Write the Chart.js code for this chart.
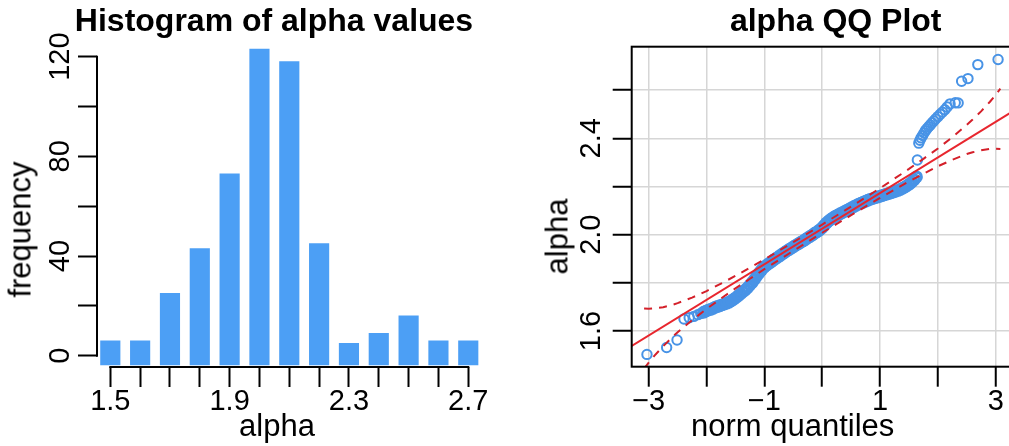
<!DOCTYPE html>
<html>
<head>
<meta charset="utf-8">
<title>alpha histogram and QQ plot</title>
<script src="https://cdn.jsdelivr.net/npm/chart.js@4.4.1/dist/chart.umd.min.js"></script>
<style>
  html, body { margin: 0; padding: 0; background: #fff; overflow: hidden; width: 1009px; height: 446px; }
  canvas { position: absolute; top: 0; }
  #hist { left: 0; }
  #qq { left: 500px; }
  .lab {
    position: absolute; width: 200px; height: 31px; text-align: center;
    font: 31px/31px 'Liberation Sans', Arial, sans-serif; color: #000; white-space: nowrap;
  }
  .ylab { transform: rotate(-90deg); }
</style>
</head>
<body>
<canvas id="hist" width="548" height="446"></canvas>
<canvas id="qq" width="634" height="446"></canvas>
<div class="lab" style="left:177px; top:410px">alpha</div>
<div class="lab" style="left:691px; top:410px">norm quantiles</div>
<div class="lab ylab" style="left:-80px; top:214px">frequency</div>
<div class="lab ylab" style="left:457px; top:221px">alpha</div>
<script>
// histogram data
const histBins = [1.5, 1.6, 1.7, 1.8, 1.9, 2.0, 2.1, 2.2, 2.3, 2.4, 2.5, 2.6, 2.7];
const histCounts = [6, 6, 25, 43, 73, 123, 118, 45, 5, 9, 16, 6, 6];
const histXLabels = [1.5, 1.9, 2.3, 2.7];
const histYTicks = [0, 20, 40, 60, 80, 100, 120];
const histYLabels = [0, 40, 80, 120];

// qq plot data (theoretical quantile, sample alpha)
const qqZ = [
  -3.03, -2.69, -2.51, -2.39, -2.30, -2.22, -2.15, -2.10,
  -2.05, -2.01, -1.97, -1.93, -1.89, -1.85, -1.81, -1.77, -1.73, -1.69,
  -1.65, -1.61, -1.57, -1.53, -1.49, -1.45, -1.41, -1.37, -1.33, -1.29,
  -1.25, -1.21, -1.17, -1.13, -1.09, -1.05, -1.01, -0.97, -0.93, -0.89,
  -0.85, -0.81, -0.77, -0.73, -0.69, -0.65, -0.61, -0.57, -0.53, -0.49,
  -0.45, -0.41, -0.37, -0.33, -0.29, -0.25, -0.21, -0.17, -0.13, -0.09,
  -0.05, -0.01, 0.03, 0.07, 0.11, 0.15, 0.19, 0.23, 0.27, 0.31,
  0.35, 0.39, 0.43, 0.47, 0.51, 0.55, 0.59, 0.63, 0.67, 0.71,
  0.75, 0.79, 0.83, 0.87, 0.91, 0.95, 0.99, 1.03, 1.07, 1.11,
  1.15, 1.19, 1.23, 1.27, 1.31, 1.35, 1.39, 1.43, 1.47, 1.51,
  1.55, 1.59, 1.63,
  1.645, 1.67, 1.69, 1.71, 1.735, 1.76, 1.785, 1.81, 1.84, 1.87,
  1.90, 1.93, 1.96, 2.00, 2.04, 2.08, 2.12, 2.16, 2.21, 2.30,
  2.35, 2.41, 2.52, 2.69, 3.04
];
const qqAlpha = [
  1.503, 1.532, 1.563, 1.650, 1.655, 1.661, 1.668, 1.673,
  1.678, 1.683, 1.687, 1.690, 1.694, 1.699, 1.702, 1.705, 1.709, 1.712,
  1.716, 1.720, 1.726, 1.732, 1.739, 1.747, 1.755, 1.763, 1.771, 1.780,
  1.791, 1.802, 1.815, 1.829, 1.841, 1.853, 1.864, 1.872, 1.879, 1.886,
  1.893, 1.900, 1.906, 1.913, 1.920, 1.926, 1.933, 1.939, 1.945, 1.951,
  1.957, 1.963, 1.969, 1.974, 1.980, 1.987, 1.993, 1.999, 2.006, 2.012,
  2.019, 2.027, 2.037, 2.048, 2.057, 2.064, 2.071, 2.077, 2.082, 2.087,
  2.092, 2.097, 2.102, 2.107, 2.112, 2.117, 2.122, 2.127, 2.131, 2.135,
  2.139, 2.143, 2.147, 2.150, 2.153, 2.156, 2.159, 2.162, 2.165, 2.168,
  2.171, 2.174, 2.177, 2.180, 2.184, 2.188, 2.193, 2.198, 2.204, 2.211,
  2.219, 2.228, 2.240,
  2.310, 2.380, 2.392, 2.402, 2.412, 2.422, 2.432, 2.440, 2.448, 2.456,
  2.465, 2.472, 2.480, 2.490, 2.500, 2.509, 2.519, 2.530, 2.543, 2.548,
  2.547, 2.637, 2.648, 2.706, 2.727
];
const qqLineZ = [-3.3, 3.3];
const qqLineAlpha = [1.537, 2.513];
const envZ = [-3.08, -3.0, -2.9, -2.75, -2.6, -2.5, -2.25, -2.0, -1.75, -1.5, -1.25, -1.0, -0.5, 0,
  0.5, 1.0, 1.25, 1.5, 1.75, 2.0, 2.25, 2.5, 2.6, 2.75, 2.9, 3.0, 3.08];
const envUpper = [1.694, 1.693, 1.694, 1.699, 1.708, 1.716, 1.739, 1.766, 1.797, 1.829, 1.863, 1.897, 1.969, 2.042,
  2.117, 2.193, 2.233, 2.273, 2.315, 2.358, 2.405, 2.456, 2.478, 2.513, 2.552, 2.581, 2.606];
const envLower = [1.444, 1.469, 1.498, 1.537, 1.573, 1.595, 1.645, 1.692, 1.735, 1.777, 1.817, 1.857, 1.933, 2.008,
  2.081, 2.153, 2.187, 2.221, 2.253, 2.284, 2.311, 2.335, 2.342, 2.351, 2.356, 2.357, 2.356];
const qqXTicks = [-3, -2, -1, 0, 1, 2, 3];
const qqXLabels = [-3, -1, 1, 3];
const qqYTicks = [1.6, 1.8, 2.0, 2.2, 2.4, 2.6];
const qqYLabels = [1.6, 2.0, 2.4];

const BAR_BLUE = '#4c9ff5';
const PT_BLUE = '#4893e6';
const RED = '#e8262e';
const DASH_RED = '#d4202a';
const GRID = '#d6d6d6';

Chart.defaults.font.family = "'Liberation Sans', Arial, sans-serif";
Chart.defaults.color = '#000';

const zip = (xs, ys) => xs.map((x, i) => ({ x: x, y: ys[i] }));
const minus = v => (v < 0 ? '\u2212' + Math.abs(v) : String(v));

// axis lines that only span the first to last tick, like R's axis()
const histAxes = {
  id: 'histAxes',
  afterDraw(chart) {
    const { ctx, chartArea, scales: { x, y } } = chart;
    ctx.save();
    ctx.strokeStyle = '#000';
    ctx.lineWidth = 2;
    ctx.beginPath();
    ctx.moveTo(chartArea.left, y.getPixelForValue(histYTicks[0]) + 1);
    ctx.lineTo(chartArea.left, y.getPixelForValue(histYTicks[histYTicks.length - 1]) - 1);
    ctx.moveTo(x.getPixelForValue(histBins[0]) - 1, chartArea.bottom);
    ctx.lineTo(x.getPixelForValue(histBins[histBins.length - 1]) + 1, chartArea.bottom);
    ctx.stroke();
    ctx.restore();
  }
};

const plotBox = {
  id: 'plotBox',
  afterDraw(chart) {
    const { ctx, chartArea: a } = chart;
    ctx.save();
    ctx.strokeStyle = '#000';
    ctx.lineWidth = 2;
    ctx.strokeRect(a.left, a.top, a.right - a.left, a.bottom - a.top);
    ctx.restore();
  }
};

const titleFont = { size: 32, weight: 'bold' };

new Chart(document.getElementById('hist'), {
  type: 'bar',
  data: {
    datasets: [{
      data: zip(histBins, histCounts),
      backgroundColor: BAR_BLUE,
      borderWidth: 0,
      barThickness: 19.5,
      base: -3.7
    }]
  },
  options: {
    responsive: false,
    devicePixelRatio: 1,
    animation: false,
    layout: { padding: 0 },
    plugins: {
      legend: { display: false },
      tooltip: { enabled: false },
      title: {
        display: true,
        text: 'Histogram of alpha values',
        color: '#000',
        font: titleFont,
        padding: { top: 3.4, bottom: 4.9 }
      }
    },
    scales: {
      x: {
        type: 'linear',
        offset: false,
        min: 1.4554,
        max: 2.9673,
        afterBuildTicks: s => { s.ticks = histBins.map(v => ({ value: v })); },
        afterFit: s => { s.height = 79; },
        border: { display: false },
        grid: { offset: false, drawOnChartArea: false, tickLength: 20, tickWidth: 2, tickColor: '#000' },
        ticks: {
          autoSkip: false, maxRotation: 0, padding: -2.4, color: '#000', font: { size: 29 },
          callback: v => (histXLabels.includes(v) ? v.toFixed(1) : '')
        }
      },
      y: {
        min: -4.535,
        max: 124.0,
        afterBuildTicks: s => { s.ticks = histYTicks.map(v => ({ value: v })); },
        afterFit: s => { s.width = 97; },
        border: { display: false },
        grid: { drawOnChartArea: false, tickLength: 19, tickWidth: 2, tickColor: '#000' },
        ticks: {
          autoSkip: false, minRotation: 90, maxRotation: 90, crossAlign: 'center', padding: -7,
          color: '#000', font: { size: 29 },
          callback: v => (histYLabels.includes(v) ? String(v) : '')
        }
      }
    }
  },
  plugins: [histAxes]
});

new Chart(document.getElementById('qq'), {
  type: 'scatter',
  data: {
    datasets: [
      {
        data: zip(qqLineZ, qqLineAlpha),
        showLine: true, borderColor: RED, borderWidth: 2, pointRadius: 0
      },
      {
        data: zip(envZ, envUpper),
        showLine: true, borderColor: DASH_RED, borderWidth: 2, borderDash: [8, 7], pointRadius: 0
      },
      {
        data: zip(envZ, envLower),
        showLine: true, borderColor: DASH_RED, borderWidth: 2, borderDash: [8, 7], pointRadius: 0
      },
      {
        data: zip(qqZ, qqAlpha),
        showLine: false,
        pointStyle: 'circle',
        pointRadius: c => (c.raw && c.raw.x > -2.07 && c.raw.x < 1.64 ? 4.8 : 4.7),
        pointBackgroundColor: 'rgba(0,0,0,0)',
        pointBorderColor: PT_BLUE,
        pointBorderWidth: c => (c.raw && c.raw.x > -2.07 && c.raw.x < 1.64 ? 3.2 : 2)
      }
    ]
  },
  options: {
    responsive: false,
    devicePixelRatio: 1,
    animation: false,
    layout: { padding: { left: 37.4, right: 0, top: 0, bottom: 0 } },
    plugins: {
      legend: { display: false },
      tooltip: { enabled: false },
      title: {
        display: true,
        text: 'alpha QQ Plot',
        color: '#000',
        font: titleFont,
        padding: { top: 3.4, bottom: 4.9 }
      }
    },
    scales: {
      x: {
        type: 'linear',
        min: -3.294,
        max: 5.252,
        afterBuildTicks: s => { s.ticks = qqXTicks.map(v => ({ value: v })); },
        afterFit: s => { s.height = 79.3; },
        border: { display: false },
        grid: { color: GRID, lineWidth: 1.5, tickLength: 20, tickWidth: 2, tickColor: '#000' },
        ticks: {
          autoSkip: false, maxRotation: 0, padding: -2.4, color: '#000', font: { size: 29 },
          callback: v => (qqXLabels.includes(v) ? minus(v) : '')
        }
      },
      y: {
        min: 1.452,
        max: 2.7804,
        afterBuildTicks: s => { s.ticks = qqYTicks.map(v => ({ value: v })); },
        afterFit: s => { s.width = 94.3; },
        border: { display: false },
        grid: { color: GRID, lineWidth: 1.5, tickLength: 19, tickWidth: 2, tickColor: '#000' },
        ticks: {
          autoSkip: false, minRotation: 90, maxRotation: 90, crossAlign: 'center', padding: 0.8,
          color: '#000', font: { size: 29 },
          callback: v => (qqYLabels.includes(v) ? v.toFixed(1) : '')
        }
      }
    }
  },
  plugins: [plotBox]
});
</script>
</body>
</html>
